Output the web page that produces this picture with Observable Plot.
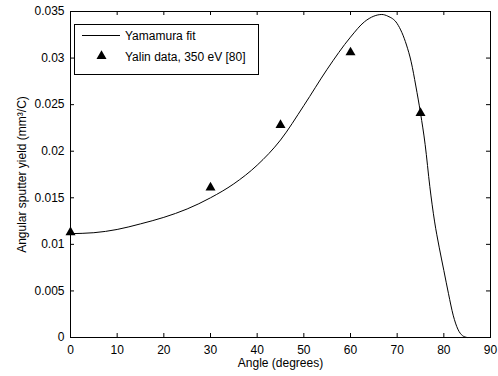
<!DOCTYPE html>
<html>
<head>
<meta charset="utf-8">
<script src="https://cdn.jsdelivr.net/npm/d3@7"></script>
<script src="https://cdn.jsdelivr.net/npm/@observablehq/plot@0.6"></script>
<style>
  body { margin: 0; background: #fff; }
  svg { display: block; }
</style>
</head>
<body>
<div id="chart"></div>
<script>
// Yamamura fit curve: angle (degrees) and angular sputter yield (mm^3/C)
const fitAngle = [0, 5, 10, 15, 20, 25, 30, 35, 40, 45, 50, 55, 60, 63, 65, 66.7, 68, 70, 72, 73, 74, 75, 76, 77, 78, 79, 80, 81, 82, 83, 84, 85];
const fitYield = [0.01115, 0.01125, 0.0116, 0.0122, 0.0129, 0.0138, 0.0150, 0.0165, 0.0185, 0.0212, 0.0249, 0.0288, 0.03225, 0.0339, 0.0345, 0.03468, 0.0345, 0.0337, 0.0314, 0.0296, 0.0270, 0.0241, 0.0207, 0.0162, 0.0125, 0.0097, 0.0072, 0.0047, 0.0024, 0.0009, 0.0002, 0.0];

// Measured data points
const dataAngle = [0, 30, 45, 60, 75];
const dataYield = [0.0113, 0.0161, 0.0228, 0.0306, 0.0241];

// Axis ticks and labels
const xTicks = [0, 10, 20, 30, 40, 50, 60, 70, 80, 90];
const xTickLabels = ["0", "10", "20", "30", "40", "50", "60", "70", "80", "90"];
const yTicks = [0, 0.005, 0.01, 0.015, 0.02, 0.025, 0.03, 0.035];
const yTickLabels = ["0", "0.005", "0.01", "0.015", "0.02", "0.025", "0.03", "0.035"];

const seriesNames = ["Yamamura fit", "Yalin data, 350 eV [80]"];
const xTitle = "Angle (degrees)";
const yTitle = "Angular sputter yield (mm³/C)";

const fit = fitAngle.map((a, i) => ({angle: a, yield: fitYield[i]}));
const points = dataAngle.map((a, i) => ({angle: a, yield: dataYield[i]}));

const font = "'Liberation Sans', Arial, Helvetica, sans-serif";
const triangleArea = 43.3;
const dotR = Math.sqrt(triangleArea / Math.PI);

const W = 498, H = 376;
const margin = {left: 70, right: 8, top: 11, bottom: 39};
const innerW = W - margin.left - margin.right;
const innerH = H - margin.top - margin.bottom;
const tickLen = 4;

// inward ticks on all four sides of the box: full-frame ticks inset to a short stub
const inwardTicks = [
  Plot.tickX(xTicks, {x: d => d, insetTop: innerH - tickLen, stroke: "#000"}),
  Plot.tickX(xTicks, {x: d => d, insetBottom: innerH - tickLen, stroke: "#000"}),
  Plot.tickY(yTicks, {y: d => d, insetRight: innerW - tickLen, stroke: "#000"}),
  Plot.tickY(yTicks, {y: d => d, insetLeft: innerW - tickLen, stroke: "#000"})
];

const chart = Plot.plot({
  width: W,
  height: H,
  marginLeft: margin.left,
  marginRight: margin.right,
  marginTop: margin.top,
  marginBottom: margin.bottom,
  style: {fontFamily: font, fontSize: "12px", color: "#000", background: "#fff", overflow: "visible"},
  x: {domain: [0, 90]},
  y: {domain: [0, 0.035]},
  marks: [
    Plot.line(fit, {x: "angle", y: "yield", stroke: "#000", strokeWidth: 1, curve: "monotone-x"}),
    Plot.dot(points, {x: "angle", y: "yield", symbol: "triangle", fill: "#000", stroke: "none", r: dotR}),
    ...inwardTicks,
    Plot.frame({stroke: "#000", strokeWidth: 1}),
    // tick labels
    Plot.axisX(xTicks, {anchor: "bottom", tickSize: 0, tickPadding: 7.5, tickFormat: d => xTickLabels[xTicks.indexOf(d)], label: null, fontSize: 12}),
    Plot.axisY(yTicks, {anchor: "left", tickSize: 0, tickPadding: 6, tickFormat: d => yTickLabels[yTicks.indexOf(d)], label: null, fontSize: 12}),
    // axis titles
    Plot.text([xTitle], {text: d => d, frameAnchor: "bottom", textAnchor: "middle", lineAnchor: "top", dy: 21, fontSize: 12, fill: "#000"}),
    Plot.text([yTitle], {text: d => d, frameAnchor: "left", textAnchor: "middle", lineAnchor: "middle", dx: -48, rotate: -90, fontSize: 12, fill: "#000"})
  ]
});

document.getElementById("chart").appendChild(chart);

// Legend box in the upper-left corner of the axes
const svg = d3.select(chart);
const legend = svg.append("g")
  .attr("font-family", font)
  .attr("font-size", 12)
  .attr("text-anchor", "start")
  .attr("fill", "#000");
legend.append("rect")
  .attr("x", 74.5).attr("y", 24.5)
  .attr("width", 184).attr("height", 50)
  .attr("fill", "#fff").attr("stroke", "#000").attr("stroke-width", 1);
legend.append("line")
  .attr("x1", 82).attr("x2", 120)
  .attr("y1", 35.5).attr("y2", 35.5)
  .attr("stroke", "#000").attr("stroke-width", 1);
legend.append("path")
  .attr("d", d3.symbol(d3.symbolTriangle, triangleArea)())
  .attr("transform", "translate(101.5,56)")
  .attr("fill", "#000");
legend.append("text")
  .attr("x", 125).attr("y", 39.5)
  .text(seriesNames[0]);
legend.append("text")
  .attr("x", 125).attr("y", 61)
  .text(seriesNames[1]);
</script>
</body>
</html>
